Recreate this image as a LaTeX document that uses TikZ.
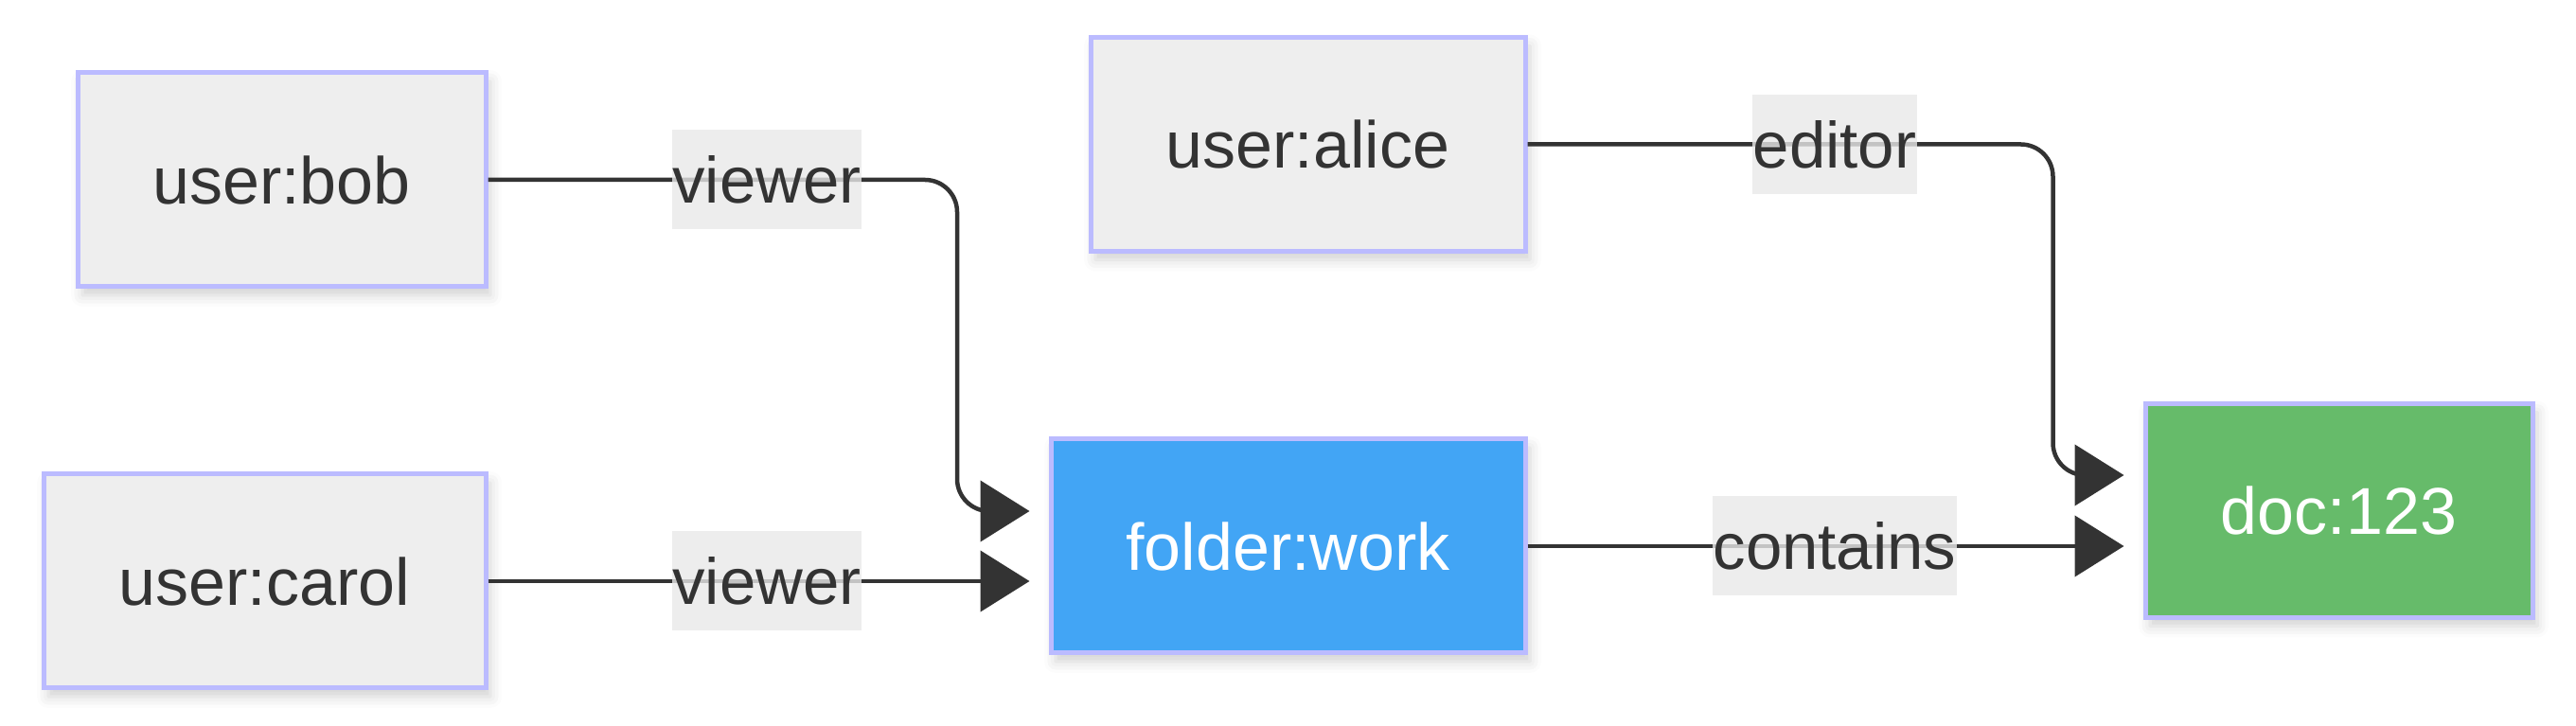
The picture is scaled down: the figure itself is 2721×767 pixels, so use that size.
\documentclass[tikz,border=0pt]{standalone}
\usepackage{fontspec}
\setmainfont{Liberation Sans}
\usetikzlibrary{arrows.meta,calc,shadows.blur}
\definecolor{txt}{HTML}{333333}
\definecolor{nodefill}{HTML}{EEEEEE}
\definecolor{nodeborder}{HTML}{BBBBFF}
\definecolor{folderblue}{HTML}{42A5F5}
\definecolor{docgreen}{HTML}{66BB6A}
\definecolor{lblfill}{HTML}{E8E8E8}
\tikzset{
  entity/.style={draw=nodeborder, line width=5pt, fill=nodefill, text=txt,
    minimum height=226pt, inner sep=0pt, font=\fontsize{70}{82}\selectfont,
    blur shadow={shadow xshift=5pt, shadow yshift=-9pt, shadow blur radius=12pt, shadow opacity=18}},
  edgelbl/.style={fill=lblfill, fill opacity=0.8, text opacity=1, text=txt,
    minimum height=105pt, inner xsep=0.5pt, inner ysep=0pt, font=\fontsize{69}{80}\selectfont},
  conn/.style={draw=txt, line width=4.5pt, rounded corners=34pt,
    -{Triangle[length=52pt,width=64pt]}}
}
\begin{document}
\begin{tikzpicture}[x=1pt,y=1pt]
\useasboundingbox (0,0) rectangle (2721,767);
\node[entity, minimum width=431pt] (bob) at (297.5,577) {user:bob};
\node[entity, minimum width=467pt] (carol) at (279.5,153) {user:carol};
\node[entity, minimum width=459pt] (alice) at (1381.5,614.5) {user:alice};
\node[entity, minimum width=501pt, fill=folderblue, text=white] (folder) at (1360.5,190) {folder:work};
\node[entity, minimum width=409pt, fill=docgreen, text=white] (doc) at (2470.5,227.5) {doc:123};

\coordinate (bobend) at ($(folder.west)+(-20,37)$);
\coordinate (carolend) at ($(folder.west)+(-20,-37)$);
\coordinate (aliceend) at ($(doc.west)+(-20,37.5)$);
\coordinate (folderend) at ($(doc.west)+(-20,-37.5)$);

\draw[conn] (bob.east) -- (1011,577) -- (1011,227) -- (bobend);
\draw[conn] (carol.east) -- (carolend);
\draw[conn] (alice.east) -- (2168.5,614.5) -- (2168.5,265) -- (aliceend);
\draw[conn] (folder.east) -- (folderend);

\node[edgelbl] (l1) at (810,577) {viewer};
\node[edgelbl] (l2) at (810,153) {viewer};
\node[edgelbl] (l3) at (1938,614.5) {editor};
\node[edgelbl] (l4) at (1938,190) {contains};
\end{tikzpicture}
\end{document}
